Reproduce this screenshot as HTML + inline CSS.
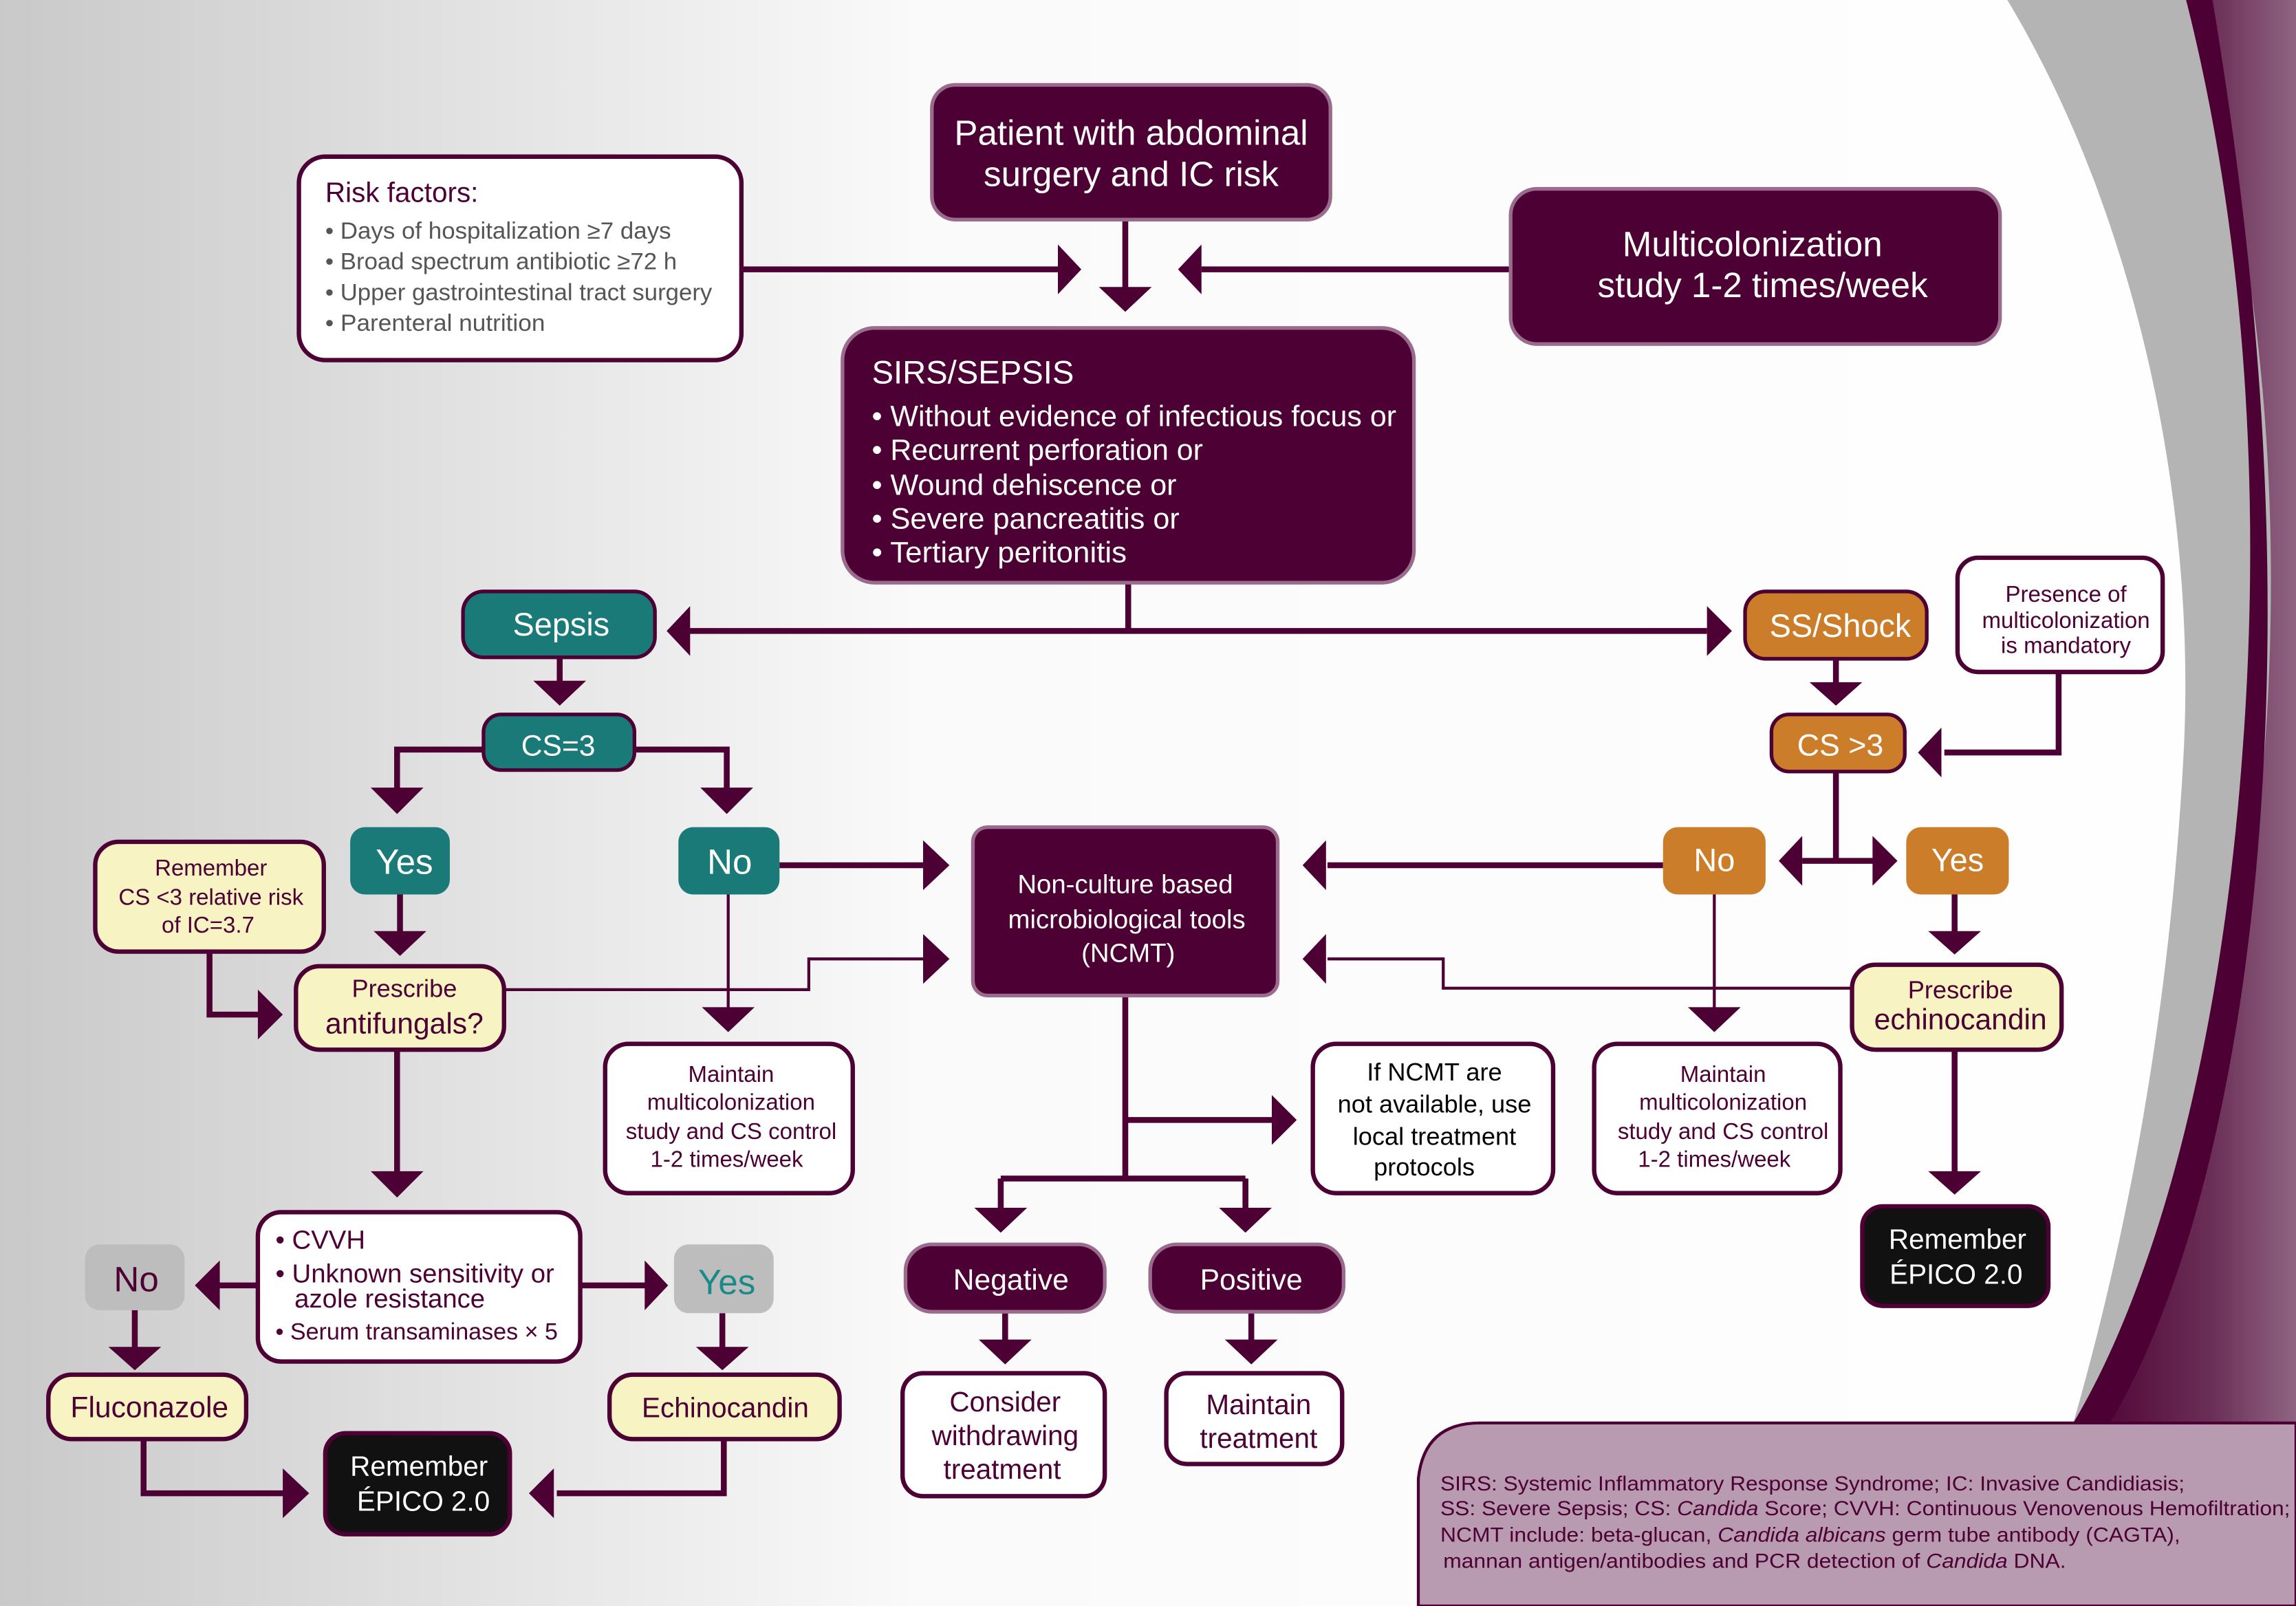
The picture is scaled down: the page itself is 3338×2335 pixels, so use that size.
<!DOCTYPE html>
<html><head><meta charset="utf-8"><style>
html,body{margin:0;padding:0;background:#fff;}
svg{display:block;}
text{font-family:"Liberation Sans Narrow","Liberation Sans",sans-serif;}
</style></head><body>
<svg width="3338" height="2335" viewBox="0 0 1567 1097" preserveAspectRatio="none" xmlns="http://www.w3.org/2000/svg">
<defs>
<linearGradient id="bg" x1="0" y1="0" x2="1" y2="0">
<stop offset="0" stop-color="#c9c9c9"/><stop offset="0.4" stop-color="#fafafa"/><stop offset="1" stop-color="#fff"/>
</linearGradient>
<linearGradient id="pr" x1="0" y1="0" x2="1" y2="0">
<stop offset="0" stop-color="#4d0033"/><stop offset="0.6" stop-color="#6a2e56"/><stop offset="1" stop-color="#8f6482"/>
</linearGradient>
</defs>
<rect width="1567" height="1097" fill="url(#bg)"/>
<!-- gray arc -->
<path d="M1370,0 C1460,150 1500,350 1490,520 C1480,700 1450,850 1415,972 L1567,972 L1567,0 Z" fill="#b4b4b4"/>
<!-- purple -->
<path d="M1492,0 C1540,150 1560,330 1545,520 C1530,720 1480,880 1420,972 L1567,972 L1567,0 Z" fill="url(#pr)"/>
<path d="M1492,0 C1530,150 1545,330 1530,520 C1515,720 1470,880 1415,972 L1440,972 C1495,880 1535,720 1545,520 C1555,330 1535,150 1510,0 Z" fill="#4d0033"/>
<!-- footnote -->
<path d="M1567,1097 L968,1097 L968,1010 Q972,972 1010,972 L1567,972 Z" fill="#b89ab1" stroke="#4d0033" stroke-width="2"/>
<g fill="#4d0033" font-size="14">
<text x="983" y="1018" textLength="508" lengthAdjust="spacingAndGlyphs">SIRS: Systemic Inflammatory Response Syndrome; IC: Invasive Candidiasis;</text>
<text x="983" y="1035" textLength="580" lengthAdjust="spacingAndGlyphs">SS: Severe Sepsis; CS: <tspan font-style="italic">Candida</tspan> Score; CVVH: Continuous Venovenous Hemofiltration;</text>
<text x="983" y="1053" textLength="505" lengthAdjust="spacingAndGlyphs">NCMT include: beta-glucan, <tspan font-style="italic">Candida albicans</tspan> germ tube antibody (CAGTA),</text>
<text x="985" y="1071" textLength="425" lengthAdjust="spacingAndGlyphs">mannan antigen/antibodies and PCR detection of <tspan font-style="italic">Candida</tspan> DNA.</text>
</g>

<!-- connectors -->
<g stroke="#4d0033" stroke-width="4" fill="none">
<path d="M506,184 H722"/><path d="M1031,184 H820"/>
<path d="M768,150 V198"/>
<path d="M770,398 V431 M470,431 H1165"/>
<path d="M382,449 V466"/>
<path d="M330,512 H271 V540 M433,512 H496 V540"/>
<path d="M532,591 H632"/>
<path d="M273,611 V638"/>
<path d="M143,650 V693 H178"/>
<path d="M271,717 V802"/>
<path d="M176,878 H150 M396,878 H442"/>
<path d="M92,895 V922 M493,897 V922"/>
<path d="M98,983 V1020 H195 M494,983 V1020 H380"/>
<path d="M768,680 V805 M683,805 H850 M683,805 V827 M850,805 V827 M768,765 H870"/>
<path d="M686,896 V917 M854,896 V917"/>
<path d="M1253,450 V468"/>
<path d="M1405,459 V514 H1327"/>
<path d="M1253,527 V588 M1230,588 H1280"/>
<path d="M1135,591 H906"/>
<path d="M1334,611 V638"/>
<path d="M1334,717 V802"/>
</g>
<g stroke="#4d0033" stroke-width="2" fill="none">
<path d="M344,676 H552 V655 H632"/>
<path d="M497,611 V690"/>
<path d="M1170,611 V690"/>
<path d="M1264,675 H985 V655 H906"/>
</g>
<!-- arrowheads -->
<g fill="#4d0033">
<polygon points="722,167 738,184 722,201"/>
<polygon points="820,167 804,184 820,201"/>
<polygon points="750,196 786,196 768,213"/>
<polygon points="471,414 455,431 471,448"/>
<polygon points="1165,414 1182,431 1165,448"/>
<polygon points="364,465 400,465 382,482"/>
<polygon points="253,538 289,538 271,556"/>
<polygon points="478,538 514,538 496,556"/>
<polygon points="630,574 648,591 630,608"/>
<polygon points="630,638 648,655 630,672"/>
<polygon points="255,636 291,636 273,653"/>
<polygon points="176,676 193,693 176,710"/>
<polygon points="479,688 515,688 497,705"/>
<polygon points="253,800 289,800 271,818"/>
<polygon points="150,861 133,878 150,895"/>
<polygon points="440,861 456,878 440,895"/>
<polygon points="74,920 110,920 92,936"/>
<polygon points="475,920 511,920 493,936"/>
<polygon points="193,1003 211,1020 193,1037"/>
<polygon points="378,1003 361,1020 378,1037"/>
<polygon points="665,825 701,825 683,842"/>
<polygon points="832,825 868,825 850,842"/>
<polygon points="868,748 885,765 868,782"/>
<polygon points="668,915 704,915 686,932"/>
<polygon points="836,915 872,915 854,932"/>
<polygon points="1235,466 1271,466 1253,482"/>
<polygon points="1325,497 1309,514 1325,531"/>
<polygon points="1230,571 1214,588 1230,605"/>
<polygon points="1278,571 1295,588 1278,605"/>
<polygon points="905,574 889,591 905,608"/>
<polygon points="905,638 889,655 905,672"/>
<polygon points="1152,688 1188,688 1170,705"/>
<polygon points="1316,636 1352,636 1334,652"/>
<polygon points="1316,800 1352,800 1334,816"/>
</g>

<!-- dark purple nodes -->
<g fill="#4d0033" stroke="#9a6b8c" stroke-width="2.5">
<rect x="636" y="58" width="272" height="92" rx="16"/>
<rect x="1031" y="129" width="334" height="106" rx="18"/>
<rect x="575" y="224" width="390" height="174" rx="22"/>
<rect x="664" y="565" width="208" height="115" rx="10"/>
<rect x="618" y="850" width="136" height="46" rx="18"/>
<rect x="785" y="850" width="132" height="46" rx="18"/>
</g>
<g fill="#fff" font-family="Liberation Sans,sans-serif">
<text x="772" y="99" font-size="24" text-anchor="middle">Patient with abdominal</text>
<text x="772" y="127" font-size="24" text-anchor="middle">surgery and IC risk</text>
<text x="1196" y="175" font-size="24" text-anchor="middle">Multicolonization</text>
<text x="1203" y="203" font-size="24" text-anchor="middle">study 1-2 times/week</text>
<text x="595" y="262" font-size="22" textLength="138" lengthAdjust="spacingAndGlyphs">SIRS/SEPSIS</text>
<text x="595" y="291" font-size="20" textLength="358" lengthAdjust="spacingAndGlyphs">• Without evidence of infectious focus or</text>
<text x="595" y="314" font-size="20" textLength="226" lengthAdjust="spacingAndGlyphs">• Recurrent perforation or</text>
<text x="595" y="338" font-size="20" textLength="208" lengthAdjust="spacingAndGlyphs">• Wound dehiscence or</text>
<text x="595" y="361" font-size="20" textLength="210" lengthAdjust="spacingAndGlyphs">• Severe pancreatitis or</text>
<text x="595" y="384" font-size="20" textLength="174" lengthAdjust="spacingAndGlyphs">• Tertiary peritonitis</text>
<text x="768" y="610" font-size="18" text-anchor="middle">Non-culture based</text>
<text x="769" y="634" font-size="18" text-anchor="middle">microbiological tools</text>
<text x="770" y="657" font-size="18" text-anchor="middle">(NCMT)</text>
<text x="690" y="881" font-size="20" text-anchor="middle">Negative</text>
<text x="854" y="881" font-size="20" text-anchor="middle">Positive</text>
</g>

<!-- teal -->
<g fill="#1a7a78" stroke="#4d0033" stroke-width="2.5">
<rect x="316" y="404" width="131" height="45" rx="14"/>
<rect x="330" y="488" width="103" height="38" rx="12"/>
</g>
<g fill="#1a7a78">
<rect x="239" y="565" width="68" height="46" rx="10"/>
<rect x="463" y="565" width="69" height="46" rx="10"/>
</g>
<g fill="#fff" font-family="Liberation Sans,sans-serif" text-anchor="middle">
<text x="383" y="434" font-size="22">Sepsis</text>
<text x="381" y="516" font-size="20">CS=3</text>
<text x="276" y="597" font-size="24">Yes</text>
<text x="498" y="597" font-size="24">No</text>
</g>
<!-- orange -->
<g fill="#cc7d2a" stroke="#4d0033" stroke-width="2.5">
<rect x="1191" y="404" width="124" height="46" rx="14"/>
<rect x="1209" y="488" width="91" height="39" rx="12"/>
</g>
<g fill="#cc7d2a">
<rect x="1135" y="565" width="70" height="46" rx="10"/>
<rect x="1301" y="565" width="70" height="46" rx="10"/>
</g>
<g fill="#fff" font-family="Liberation Sans,sans-serif" text-anchor="middle">
<text x="1256" y="435" font-size="22">SS/Shock</text>
<text x="1256" y="516" font-size="21">CS &gt;3</text>
<text x="1170" y="595" font-size="22">No</text>
<text x="1336" y="595" font-size="22">Yes</text>
</g>

<!-- white nodes -->
<g fill="#fff" stroke="#4d0033" stroke-width="3">
<rect x="204" y="107" width="302" height="139" rx="18"/>
<rect x="1336" y="381" width="140" height="78" rx="14"/>
<rect x="413" y="713" width="169" height="102" rx="16"/>
<rect x="176" y="828" width="220" height="102" rx="16"/>
<rect x="896" y="713" width="164" height="102" rx="16"/>
<rect x="1088" y="713" width="168" height="102" rx="16"/>
<rect x="616" y="938" width="138" height="84" rx="14"/>
<rect x="796" y="938" width="120" height="62" rx="14"/>
</g>
<g fill="#4d0033" font-size="16">
<text x="222" y="138" font-size="19" font-family="Liberation Sans,sans-serif">Risk factors:</text>
<text x="222" y="163" fill="#555" textLength="236" lengthAdjust="spacingAndGlyphs">• Days of hospitalization ≥7 days</text>
<text x="222" y="184" fill="#555" textLength="240" lengthAdjust="spacingAndGlyphs">• Broad spectrum antibiotic ≥72 h</text>
<text x="222" y="205" fill="#555" textLength="264" lengthAdjust="spacingAndGlyphs">• Upper gastrointestinal tract surgery</text>
<text x="222" y="226" fill="#555" textLength="150" lengthAdjust="spacingAndGlyphs">• Parenteral nutrition</text>
</g>
<g fill="#4d0033" text-anchor="middle" font-family="Liberation Sans,sans-serif">
<text x="1410" y="411" font-size="15.5">Presence of</text>
<text x="1410" y="429" font-size="15.5">multicolonization</text>
<text x="1410" y="446" font-size="15.5">is mandatory</text>
<text x="499" y="739" font-size="15.5">Maintain</text>
<text x="499" y="758" font-size="15.5">multicolonization</text>
<text x="499" y="778" font-size="15.5">study and CS control</text>
<text x="496" y="797" font-size="15.5">1-2 times/week</text>
<text x="1176" y="739" font-size="15.5">Maintain</text>
<text x="1176" y="758" font-size="15.5">multicolonization</text>
<text x="1176" y="778" font-size="15.5">study and CS control</text>
<text x="1170" y="797" font-size="15.5">1-2 times/week</text>
<text x="686" y="964" font-size="19">Consider</text>
<text x="686" y="987" font-size="19">withdrawing</text>
<text x="684" y="1010" font-size="19">treatment</text>
<text x="859" y="966" font-size="19">Maintain</text>
<text x="859" y="989" font-size="19">treatment</text>
</g>
<g fill="#000" text-anchor="middle" font-family="Liberation Sans,sans-serif" font-size="17">
<text x="979" y="738">If NCMT are</text>
<text x="979" y="760">not available, use</text>
<text x="979" y="782">local treatment</text>
<text x="972" y="803">protocols</text>
</g>
<g fill="#4d0033" font-size="18">
<text x="188" y="853">• CVVH</text>
<text x="188" y="876">• Unknown sensitivity or</text>
<text x="201" y="893">azole resistance</text>
<text x="188" y="915" font-size="16">• Serum transaminases × 5</text>
</g>

<!-- cream nodes -->
<g fill="#f8f3c2" stroke="#4d0033" stroke-width="3">
<rect x="65" y="575" width="156" height="75" rx="16"/>
<rect x="202" y="660" width="142" height="57" rx="16"/>
<rect x="33" y="939" width="135" height="44" rx="16"/>
<rect x="416" y="939" width="157" height="44" rx="16"/>
<rect x="1264" y="659" width="143" height="58" rx="16"/>
</g>
<g fill="#4d0033" text-anchor="middle" font-family="Liberation Sans,sans-serif">
<text x="144" y="598" font-size="15.5">Remember</text>
<text x="144" y="618" font-size="15.5">CS &lt;3 relative risk</text>
<text x="142" y="637" font-size="15.5">of IC=3.7</text>
<text x="276" y="681" font-size="17">Prescribe</text>
<text x="276" y="706" font-size="20">antifungals?</text>
<text x="102" y="968" font-size="20">Fluconazole</text>
<text x="495" y="968" font-size="19">Echinocandin</text>
<text x="1338" y="682" font-size="17">Prescribe</text>
<text x="1338" y="703" font-size="20">echinocandin</text>
</g>
<!-- gray nodes -->
<g fill="#bdbdbd">
<rect x="58" y="850" width="68" height="45" rx="10"/>
<rect x="460" y="850" width="68" height="47" rx="10"/>
</g>
<text x="93" y="882" font-size="24" fill="#4d0033" text-anchor="middle" font-family="Liberation Sans,sans-serif">No</text>
<text x="496" y="884" font-size="24" fill="#1a8a88" text-anchor="middle" font-family="Liberation Sans,sans-serif">Yes</text>
<!-- black nodes -->
<g fill="#111" stroke="#4d0033" stroke-width="3">
<rect x="222" y="979" width="126" height="69" rx="14"/>
<rect x="1271" y="824" width="127" height="68" rx="14"/>
</g>
<g fill="#fff" text-anchor="middle" font-family="Liberation Sans,sans-serif" font-size="19">
<text x="286" y="1008">Remember</text>
<text x="289" y="1032">ÉPICO 2.0</text>
<text x="1336" y="853">Remember</text>
<text x="1335" y="877">ÉPICO 2.0</text>
</g>
</svg>
</body></html>
